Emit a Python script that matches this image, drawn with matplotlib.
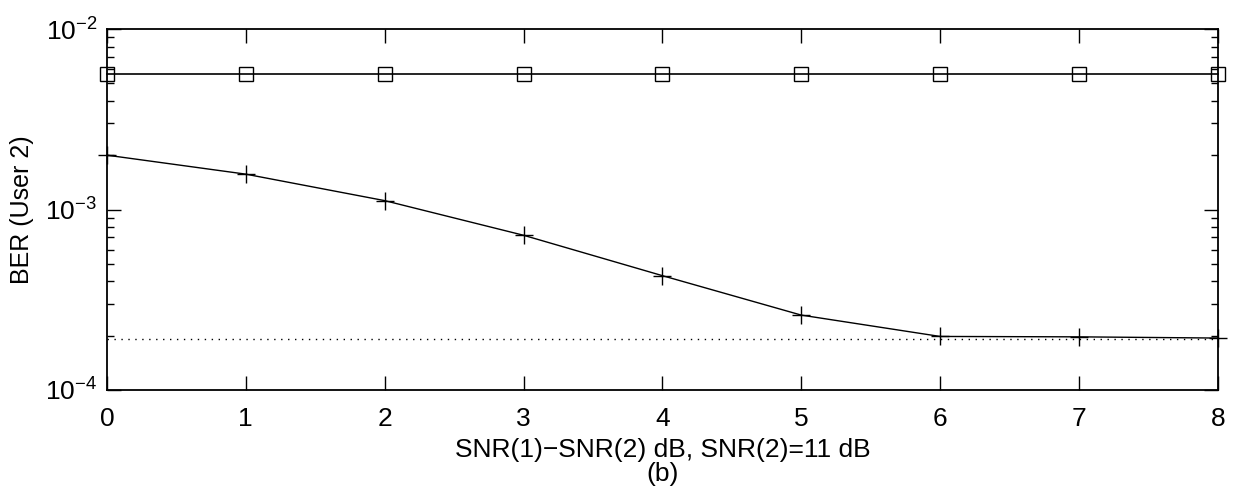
import numpy as np
import matplotlib
matplotlib.use('Agg')
import matplotlib.pyplot as plt

plt.rcParams['font.family'] = ['Liberation Sans', 'DejaVu Sans']
plt.rcParams['mathtext.fontset'] = 'custom'
plt.rcParams['mathtext.rm'] = 'Liberation Sans'

snr_diff = [0, 1, 2, 3, 4, 5, 6, 7, 8]
ber_square = [5.6e-3, 5.6e-3, 5.6e-3, 5.6e-3, 5.6e-3, 5.6e-3, 5.6e-3, 5.6e-3, 5.6e-3]
ber_plus = [2.0e-3, 1.57e-3, 1.12e-3, 7.2e-4, 4.3e-4, 2.6e-4, 1.98e-4, 1.97e-4, 1.94e-4]
ber_ref = 1.91e-4

fig = plt.figure(figsize=(12.35, 4.97), dpi=100)
ax = fig.add_axes([0.0866, 0.2153, 0.8995, 0.7263])

ax.semilogy(snr_diff, ber_square, color='k', lw=1.2, marker='s', markersize=9.5,
            markerfacecolor='none', markeredgewidth=1.0, clip_on=False, zorder=3)
ax.semilogy(snr_diff, ber_plus, color='k', lw=1.0, marker='+', markersize=13,
            markeredgewidth=1.0, clip_on=False, zorder=3)
ax.axhline(ber_ref, color='k', lw=1.0, linestyle=(0, (1, 4)))

ax.set_xlim(0, 8)
ax.set_ylim(1e-4, 1e-2)
ax.set_xticks(range(9))
ax.tick_params(which='both', direction='in', top=True, right=True, labelsize=19)
ax.tick_params(which='major', length=10, width=1.0, pad=7)
ax.tick_params(axis='x', which='major', pad=12)
ax.tick_params(which='minor', length=5, width=1.0)
ax.yaxis.set_minor_formatter(plt.NullFormatter())
for s in ax.spines.values():
    s.set_linewidth(1.3)

ax.set_ylabel('BER (User 2)', fontsize=18, labelpad=8)
ax.set_xlabel('SNR(1)\u2212SNR(2) dB, SNR(2)=11 dB\n(b)', fontsize=19, labelpad=5,
              linespacing=1.0)

fig.savefig('out.png', dpi=100)
